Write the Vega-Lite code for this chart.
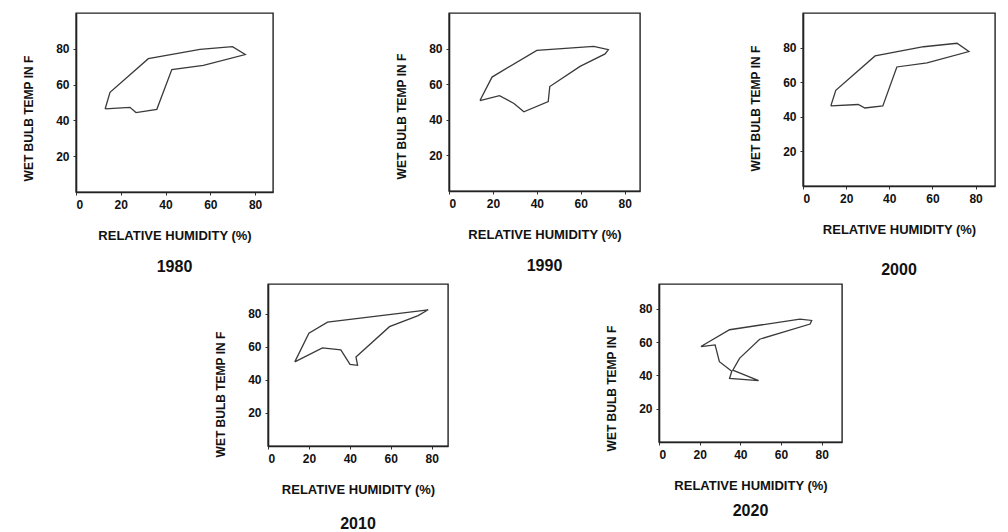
{
  "$schema": "https://vega.github.io/schema/vega-lite/v6.json",
  "background": "white",
  "padding": {"left": 21, "top": 12, "right": 5, "bottom": 5},
  "datasets": {
    "d1980": [
      {"i": 1, "rh": 13, "wbt": 46.4}, {"i": 2, "rh": 15.2, "wbt": 55.7}, {"i": 3, "rh": 32.3, "wbt": 74.5},
      {"i": 4, "rh": 55.4, "wbt": 79.7}, {"i": 5, "rh": 69.9, "wbt": 81.2}, {"i": 6, "rh": 75.6, "wbt": 76.8},
      {"i": 7, "rh": 56.9, "wbt": 70.7}, {"i": 8, "rh": 42.8, "wbt": 68.4}, {"i": 9, "rh": 36.1, "wbt": 46.2},
      {"i": 10, "rh": 26.8, "wbt": 44.4}, {"i": 11, "rh": 24.1, "wbt": 47.3}, {"i": 12, "rh": 13, "wbt": 46.4}
    ],
    "d1990": [
      {"i": 1, "rh": 14.1, "wbt": 50.8}, {"i": 2, "rh": 19.6, "wbt": 64}, {"i": 3, "rh": 40, "wbt": 79},
      {"i": 4, "rh": 65.9, "wbt": 81.3}, {"i": 5, "rh": 72.6, "wbt": 79.4}, {"i": 6, "rh": 71.1, "wbt": 77},
      {"i": 7, "rh": 59.7, "wbt": 70}, {"i": 8, "rh": 45.9, "wbt": 58.7}, {"i": 9, "rh": 45.2, "wbt": 50.2},
      {"i": 10, "rh": 34.1, "wbt": 44.5}, {"i": 11, "rh": 29.6, "wbt": 49.2}, {"i": 12, "rh": 23, "wbt": 53.6},
      {"i": 13, "rh": 14.1, "wbt": 50.8}
    ],
    "d2000": [
      {"i": 1, "rh": 12.9, "wbt": 46.3}, {"i": 2, "rh": 15.2, "wbt": 55.3}, {"i": 3, "rh": 33.4, "wbt": 75.2},
      {"i": 4, "rh": 55.9, "wbt": 80.5}, {"i": 5, "rh": 71.4, "wbt": 82.5}, {"i": 6, "rh": 76.9, "wbt": 77.7},
      {"i": 7, "rh": 57.5, "wbt": 71.2}, {"i": 8, "rh": 43.5, "wbt": 68.8}, {"i": 9, "rh": 37, "wbt": 46.3},
      {"i": 10, "rh": 28.7, "wbt": 45.1}, {"i": 11, "rh": 25.6, "wbt": 47.1}, {"i": 12, "rh": 12.9, "wbt": 46.3}
    ],
    "d2010": [
      {"i": 1, "rh": 13.1, "wbt": 50.9}, {"i": 2, "rh": 20, "wbt": 68.2}, {"i": 3, "rh": 29.1, "wbt": 74.9},
      {"i": 4, "rh": 78.3, "wbt": 82.4}, {"i": 5, "rh": 73.4, "wbt": 78.9}, {"i": 6, "rh": 59.4, "wbt": 72.2},
      {"i": 7, "rh": 43, "wbt": 53.9}, {"i": 8, "rh": 43.8, "wbt": 48.8}, {"i": 9, "rh": 40.1, "wbt": 49.4},
      {"i": 10, "rh": 35.6, "wbt": 58.1}, {"i": 11, "rh": 26.6, "wbt": 59.3}, {"i": 12, "rh": 13.1, "wbt": 50.9}
    ],
    "d2020": [
      {"i": 1, "rh": 20.6, "wbt": 57.4}, {"i": 2, "rh": 34.7, "wbt": 67.5}, {"i": 3, "rh": 69.3, "wbt": 73.9},
      {"i": 4, "rh": 75.1, "wbt": 73.1}, {"i": 5, "rh": 74.3, "wbt": 70.9}, {"i": 6, "rh": 49.5, "wbt": 61.8},
      {"i": 7, "rh": 39.6, "wbt": 50.3}, {"i": 8, "rh": 36.3, "wbt": 43.2}, {"i": 9, "rh": 49, "wbt": 36.9},
      {"i": 10, "rh": 34.7, "wbt": 38.2}, {"i": 11, "rh": 35.8, "wbt": 42.6}, {"i": 12, "rh": 29.7, "wbt": 48.3},
      {"i": 13, "rh": 27.6, "wbt": 58.4}, {"i": 14, "rh": 20.6, "wbt": 57.4}
    ]
  },
  "bounds": "full",
  "spacing": 4,
  "vconcat": [
    {
      "bounds": "flush",
      "spacing": 176,
      "hconcat": [
        {
          "width": 197, "height": 179,
          "title": {"text": "1980", "offset": 17},
          "data": {"name": "d1980"},
          "mark": {"type": "line", "color": "#3a3a3a", "strokeWidth": 1.3},
          "encoding": {
            "x": {"field": "rh", "type": "quantitative", "scale": {"domain": [0, 88], "nice": false}, "axis": {"title": "RELATIVE  HUMIDITY (%)", "values": [0, 20, 40, 60, 80]}},
            "y": {"field": "wbt", "type": "quantitative", "scale": {"domain": [0, 100], "nice": false}, "axis": {"title": "WET  BULB TEMP IN F", "values": [20, 40, 60, 80], "titleY": 105}},
            "order": {"field": "i"}
          }
        },
        {
          "bounds": "flush",
          "spacing": 163,
          "hconcat": [
            {
              "width": 191, "height": 178,
              "title": {"text": "1990", "offset": 17},
              "data": {"name": "d1990"},
              "mark": {"type": "line", "color": "#3a3a3a", "strokeWidth": 1.3},
              "encoding": {
                "x": {"field": "rh", "type": "quantitative", "scale": {"domain": [0, 87], "nice": false}, "axis": {"title": "RELATIVE  HUMIDITY (%)", "values": [0, 20, 40, 60, 80]}},
                "y": {"field": "wbt", "type": "quantitative", "scale": {"domain": [0, 100], "nice": false}, "axis": {"title": "WET  BULB TEMP IN F", "values": [20, 40, 60, 80], "titleY": 103}},
                "order": {"field": "i"}
              }
            },
            {
              "width": 192, "height": 173,
              "title": {"text": "2000", "offset": 26},
              "data": {"name": "d2000"},
              "mark": {"type": "line", "color": "#3a3a3a", "strokeWidth": 1.3},
              "encoding": {
                "x": {"field": "rh", "type": "quantitative", "scale": {"domain": [0, 89], "nice": false}, "axis": {"title": "RELATIVE  HUMIDITY (%)", "values": [0, 20, 40, 60, 80]}},
                "y": {"field": "wbt", "type": "quantitative", "scale": {"domain": [0, 100], "nice": false}, "axis": {"title": "WET  BULB TEMP IN F", "values": [20, 40, 60, 80], "titleY": 95}},
                "order": {"field": "i"}
              }
            }
          ]
        }
      ]
    },
    {
      "bounds": "flush",
      "spacing": 0,
      "hconcat": [
        {
          "width": 192, "height": 10,
          "view": {"stroke": null},
          "data": {"values": []},
          "mark": "point",
          "encoding": {}
        },
        {
          "bounds": "flush",
          "spacing": 211,
          "hconcat": [
            {
              "width": 180, "height": 162,
              "title": {"text": "2010", "offset": 20},
              "data": {"name": "d2010"},
              "mark": {"type": "line", "color": "#3a3a3a", "strokeWidth": 1.3},
              "encoding": {
                "x": {"field": "rh", "type": "quantitative", "scale": {"domain": [0, 88], "nice": false}, "axis": {"title": "RELATIVE  HUMIDITY (%)", "values": [0, 20, 40, 60, 80]}},
                "y": {"field": "wbt", "type": "quantitative", "scale": {"domain": [0, 98], "nice": false}, "axis": {"title": "WET  BULB TEMP IN F", "values": [20, 40, 60, 80], "titleY": 110}},
                "order": {"field": "i"}
              }
            },
            {
              "width": 183, "height": 158,
              "title": {"text": "2020", "offset": 11},
              "data": {"name": "d2020"},
              "mark": {"type": "line", "color": "#3a3a3a", "strokeWidth": 1.3},
              "encoding": {
                "x": {"field": "rh", "type": "quantitative", "scale": {"domain": [0, 90], "nice": false}, "axis": {"title": "RELATIVE  HUMIDITY (%)", "values": [0, 20, 40, 60, 80]}},
                "y": {"field": "wbt", "type": "quantitative", "scale": {"domain": [0, 95], "nice": false}, "axis": {"title": "WET  BULB TEMP IN F", "values": [20, 40, 60, 80], "titleY": 104}},
                "order": {"field": "i"}
              }
            }
          ]
        }
      ]
    }
  ],
  "config": {
    "font": "Liberation Sans",
    "view": {"stroke": "#222", "strokeWidth": 1.4},
    "title": {"orient": "bottom", "font": "Liberation Sans", "fontSize": 16, "fontWeight": "bold", "color": "#111"},
    "axis": {
      "grid": false,
      "labelFont": "Liberation Sans", "labelFontWeight": "bold", "labelFontSize": 12, "labelColor": "#111",
      "titleFont": "Liberation Sans", "titleFontWeight": "bold", "titleColor": "#111",
      "domainColor": "#222", "domainWidth": 1.6, "tickColor": "#333", "tickSize": 3, "labelPadding": 4
    },
    "axisX": {"titlePadding": 19, "titleFontSize": 13},
    "axisY": {"titlePadding": 20, "titleFontSize": 12}
  }
}
